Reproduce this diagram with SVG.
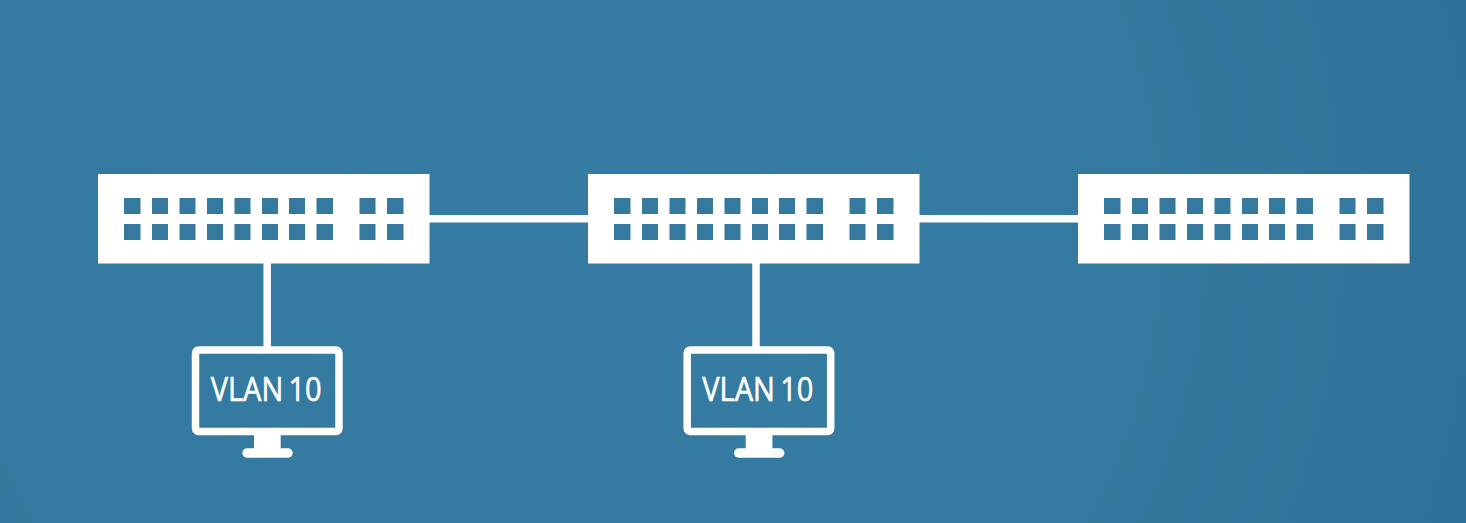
<svg xmlns="http://www.w3.org/2000/svg" xmlns:xlink="http://www.w3.org/1999/xlink" width="1466" height="523" viewBox="0 0 1466 523">
<style>
.w{fill:#fff}
.p{fill:#35799f}
.c{stroke:#fff;stroke-width:7.5;fill:none}
.t{fill:#fff;stroke:#fff;stroke-width:0.6px;font-family:"Open Sans","Noto Sans",sans-serif;font-size:32px;font-weight:400;word-spacing:-2.5px}
</style>
<defs>
<radialGradient id="bg" gradientUnits="userSpaceOnUse" cx="560" cy="230" r="1000">
<stop offset="0" stop-color="#367ba3"/>
<stop offset="0.6" stop-color="#34799f"/>
<stop offset="1" stop-color="#2e6f97"/>
</radialGradient>
<g id="sw">
<rect class="w" x="98" y="174" width="331.5" height="89.5"/>
<g class="p">
<rect x="124" y="198" width="16.5" height="16"/><rect x="152" y="198" width="16" height="16"/><rect x="179.5" y="198" width="16" height="16"/><rect x="207" y="198" width="16" height="16"/><rect x="234.500" y="198" width="16" height="16"/><rect x="262" y="198" width="16" height="16"/><rect x="289" y="198" width="16" height="16"/><rect x="316.500" y="198" width="16.500" height="16"/><rect x="359.500" y="198" width="16" height="16"/><rect x="387" y="198" width="16.500" height="16"/>
<rect x="124" y="224" width="16.5" height="16"/><rect x="152" y="224" width="16" height="16"/><rect x="179.5" y="224" width="16" height="16"/><rect x="207" y="224" width="16" height="16"/><rect x="234.500" y="224" width="16" height="16"/><rect x="262" y="224" width="16" height="16"/><rect x="289" y="224" width="16" height="16"/><rect x="316.500" y="224" width="16.500" height="16"/><rect x="359.500" y="224" width="16" height="16"/><rect x="387" y="224" width="16.500" height="16"/>
</g>
</g>
<g id="mon">
<rect x="195.500" y="350" width="143.500" height="81.500" rx="3" fill="none" stroke="#fff" stroke-width="7.500"/>
<rect class="w" x="254" y="434" width="26.700" height="16"/>
<rect class="w" x="242.300" y="448.300" width="50.400" height="9.400" rx="4.700"/>
</g>
</defs>
<rect width="1466" height="523" fill="url(#bg)"/>
<g id="connectors">
<line class="c" x1="429" y1="218.700" x2="589" y2="218.700"/>
<line class="c" x1="919" y1="218.700" x2="1079" y2="218.700"/>
<line class="c" x1="267.200" y1="263" x2="267.200" y2="347"/>
<line class="c" x1="756" y1="263" x2="756" y2="347"/>
</g>
<g id="switch-1"><use xlink:href="#sw"/></g>
<g id="switch-2"><use xlink:href="#sw" x="490"/></g>
<g id="switch-3"><use xlink:href="#sw" x="980"/></g>
<g id="pc-1"><use xlink:href="#mon"/><text class="t" x="266.200" y="400.700" text-anchor="middle" textLength="111" lengthAdjust="spacingAndGlyphs">VLAN 10</text></g>
<g id="pc-2"><use xlink:href="#mon" x="491.700"/><text class="t" x="757.800" y="400.700" text-anchor="middle" textLength="111" lengthAdjust="spacingAndGlyphs">VLAN 10</text></g>
</svg>
